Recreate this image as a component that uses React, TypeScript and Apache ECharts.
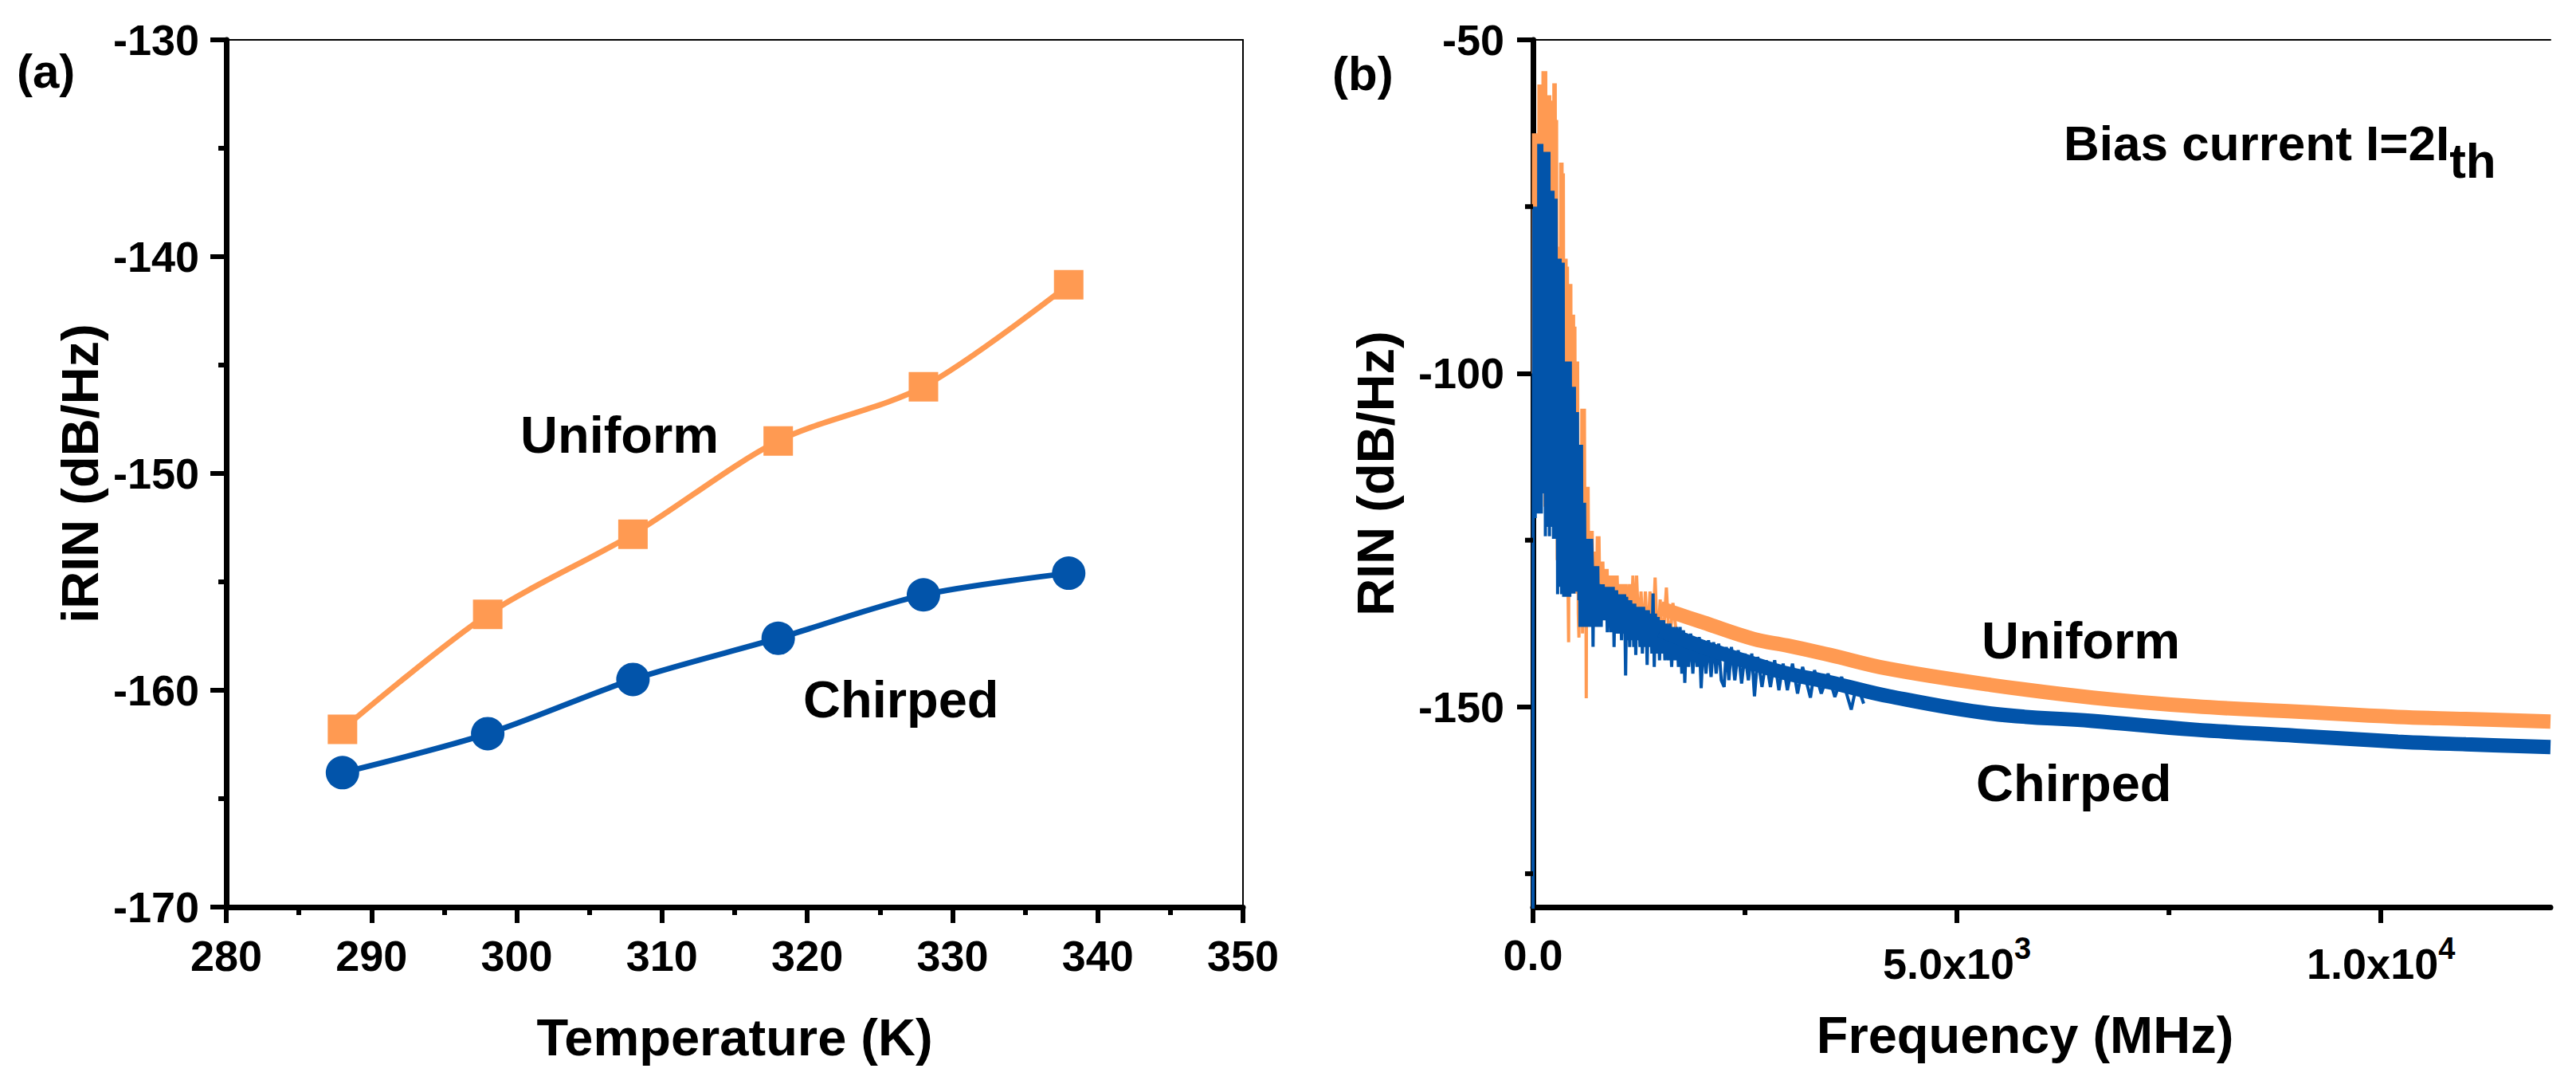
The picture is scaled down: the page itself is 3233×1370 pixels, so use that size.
import React, { useEffect, useRef } from 'react';
import * as echarts from 'echarts';

// ---------- Panel (a): integrated RIN vs temperature ----------
const temperatureK = [288, 298, 308, 318, 328, 338];
const uniformIRIN = [-161.8, -156.5, -152.8, -148.5, -146.0, -141.3];
const chirpedIRIN = [-163.8, -162.0, -159.5, -157.6, -155.6, -154.6];

// ---------- Panel (b): RIN spectrum, [frequency MHz, RIN dB/Hz] ----------
// low-frequency, strongly fluctuating part (upper / lower excursions)
const uniformLowSpectrum: [number, number][] = [
  [0, -100], [6, -64], [14, -110], [22, -64], [30, -112], [38, -64], [46, -108], [54, -64],
  [62, -116], [70, -56.7], [78, -112], [86, -56.7], [94, -118], [102, -56.7],
  [110, -114], [118, -54.7], [126, -110], [134, -54.7], [142, -120], [150, -54.7],
  [158, -118], [166, -58.3], [174, -122], [182, -58.3], [190, -120], [198, -58.3],
  [206, -122], [214, -59.1], [222, -121], [230, -59.1],
  [238, -122], [246, -56.5], [254, -120], [262, -56.5], [270, -123], [278, -62],
  [286, -128], [294, -81], [302, -130], [310, -81],
  [318, -131], [326, -68.4], [334, -130], [342, -68.4], [350, -132], [358, -70],
  [366, -131], [374, -82.8], [382, -132], [390, -82.8], [398, -132], [406, -84],
  [414, -133], [420, -140.3], [428, -86.6], [436, -132], [446, -86.6],
  [454, -132], [462, -91.2], [470, -131], [478, -91.2], [486, -132], [494, -93],
  [502, -132], [510, -98.2], [518, -133], [526, -98.2], [534, -136],
  [542, -139.6], [548, -110.7], [556, -135], [562, -110.7], [570, -136], [576, -105.3],
  [584, -139], [590, -105.3], [598, -138], [606, -105.3], [614, -136],
  [620, -117], [628, -148.7], [634, -117], [642, -137], [650, -117], [658, -136],
  [666, -123.6], [674, -137], [682, -123.6], [690, -136], [698, -123.6],
  [708, -138], [718, -126.7], [728, -137], [738, -126.7],
  [748, -136], [758, -124.4], [768, -137], [778, -124.4],
  [790, -136], [800, -128.2], [812, -137], [824, -128.2], [836, -136],
  [848, -129.3], [860, -137], [874, -129.3], [888, -137], [902, -130.3], [916, -137],
  [930, -130.3], [944, -138], [960, -130.3], [976, -137], [992, -130.3],
  [1008, -138], [1026, -131.6], [1044, -138], [1062, -131.6], [1080, -139], [1098, -131.6],
  [1118, -139], [1138, -131.6], [1158, -138], [1178, -130.3], [1198, -139], [1222, -130.3],
  [1248, -139], [1274, -132.7], [1300, -140], [1325, -132.7], [1350, -140], [1380, -132.7],
  [1410, -140], [1440, -130.6], [1470, -141], [1500, -133.9], [1530, -141], [1573, -132.1],
  [1610, -141], [1650, -134.4], [1700, -140],
];

const chirpedLowSpectrum: [number, number][] = [
  [0, -185], [3, -110], [8, -75], [14, -121.7], [20, -75], [26, -121.7], [32, -75], [38, -118],
  [44, -75], [50, -121], [56, -75], [62, -120],
  [68, -65.6], [74, -121], [80, -65.6], [86, -120], [92, -65.6], [98, -121], [104, -65.6], [110, -118],
  [116, -66.8], [122, -110.7], [128, -66.8], [134, -112], [140, -66.8], [146, -124.4], [152, -66.8],
  [158, -123], [164, -66.8], [170, -118], [176, -66.8], [182, -122], [188, -66.8], [194, -124.4],
  [200, -72.6], [206, -122], [212, -72.6], [218, -120], [224, -72.6], [230, -123], [236, -72.6], [242, -124.8],
  [248, -73.8], [254, -122], [260, -73.8], [266, -124.8], [272, -73.8], [278, -121],
  [284, -82.8], [290, -133.1], [296, -82.8], [302, -130], [308, -82.8], [314, -132], [320, -82.8], [326, -131],
  [332, -83.4], [338, -133.1], [344, -83.4], [350, -132], [356, -83.4], [362, -133.5],
  [368, -98.2], [374, -130], [380, -98.2], [386, -133.5], [392, -98.2], [398, -131], [404, -98.2],
  [410, -133.5], [416, -98.2], [422, -132], [428, -98.2], [434, -133.5], [440, -98.2], [446, -131],
  [452, -102], [458, -133], [464, -102], [470, -131], [476, -102], [482, -133], [488, -102], [494, -132],
  [500, -105.8], [506, -132.7], [512, -105.8], [518, -131], [524, -105.8], [530, -132.7],
  [536, -110.7], [542, -134], [548, -110.7], [554, -138], [560, -110.7], [566, -136], [572, -110.7], [578, -138],
  [584, -119.4], [590, -136], [596, -119.4], [602, -138], [608, -119.4], [614, -137],
  [620, -124.8], [626, -138], [632, -124.8], [638, -136], [644, -124.8], [650, -138], [656, -124.8],
  [662, -137], [668, -124.8], [674, -138], [680, -124.8], [686, -137], [692, -124.8],
  [700, -128.9], [708, -141], [716, -128.9], [724, -137], [732, -128.9], [740, -138], [748, -128.9],
  [756, -137], [764, -128.9], [772, -138],
  [780, -131.6], [788, -135], [796, -131.6], [804, -138], [812, -131.6], [820, -136], [828, -131.6], [836, -137],
  [846, -132], [856, -136], [866, -132], [876, -138.8], [886, -132], [896, -137], [906, -132], [916, -138.8],
  [926, -132], [936, -137], [946, -132], [956, -141], [966, -132.5], [976, -138], [986, -132.5], [996, -139],
  [1008, -133.1], [1020, -139], [1032, -133.1], [1044, -140], [1056, -133.1], [1068, -139], [1080, -133.1],
  [1092, -145.3], [1104, -133.5], [1116, -140], [1128, -134], [1140, -141], [1152, -134], [1164, -140],
  [1176, -134.5], [1188, -141], [1200, -134.5], [1212, -142.2], [1224, -135], [1236, -140], [1248, -135],
  [1262, -141], [1276, -135], [1290, -142], [1304, -135], [1318, -141], [1332, -135.5], [1346, -143.7],
  [1360, -135.5], [1374, -141], [1388, -136], [1402, -142], [1416, -133], [1430, -144], [1444, -136],
  [1460, -142], [1476, -136.5], [1492, -143], [1508, -137], [1524, -142], [1540, -137], [1556, -143],
  [1575, -137.5], [1595, -143], [1615, -137.5], [1635, -144], [1655, -138], [1675, -143], [1695, -138],
  [1715, -144], [1735, -138], [1755, -145], [1775, -138.5], [1790, -146.4], [1810, -139], [1835, -144],
  [1860, -139], [1885, -145], [1910, -139.5], [1935, -144], [1960, -139.5], [1983, -147.2], [2010, -140],
  [2040, -145], [2070, -140], [2100, -145.5], [2130, -140.3], [2160, -145], [2190, -140.5], [2220, -146],
  [2254, -147], [2280, -141], [2310, -146], [2340, -141], [2380, -146], [2420, -141.5], [2460, -146.5],
  [2500, -142], [2540, -146], [2580, -142], [2612, -148.4], [2650, -142.5], [2700, -147], [2750, -143],
  [2800, -147], [2850, -143], [2900, -147.5], [2950, -143.5], [3000, -147.5], [3060, -143.5], [3120, -148],
  [3180, -144], [3272, -148.6], [3320, -144.5], [3400, -148], [3480, -145], [3560, -148.5], [3640, -145.5],
  [3753, -150.4], [3820, -146.5], [3900, -149.5],
];

// high-frequency part: centre of the noise band
const tailFreq = [1500, 2000, 2600, 3000, 3500, 4200, 5400, 6600, 7800, 9000, 10200, 11000, 12000];
const uniformTailRIN = [-135.2, -137.3, -139.8, -140.8, -142.2, -144.3, -146.7, -148.6, -149.9, -150.7, -151.5, -151.8, -152.2];
const chirpedTailRIN = [-138.5, -141.0, -143.5, -145.0, -146.3, -148.4, -151.0, -152.1, -153.4, -154.3, -155.2, -155.6, -156.0];

// ---------- tick values ----------
const freqMajorTicks = [0, 5000, 10000];
const freqMinorTicks = [2500, 7500];
const rinMajorTicks = [-150, -100, -50];
const rinMinorTicks = [-175, -125, -75];
const FREQ_MIN = 0;
const FREQ_MAX = 12000;
const RIN_MIN = -180;
const RIN_MAX = -50;

const FONT = "'Liberation Sans', Arial, Helvetica, sans-serif";
const ORANGE = '#FF9A52';
const BLUE = '#0254AA';
const BLACK = '#000000';
const MINOR_TICK_LEN = 10;
const TICK_WIDTH = 6;

const tickLabel = { fontSize: 54, fontWeight: 'bold' as const, color: BLACK, fontFamily: FONT };
const axisTitle = { fontSize: 65, fontWeight: 'bold' as const, color: BLACK, fontFamily: FONT };

function freqLabel(v: number): string {
  if (v === 0) return '{z|0.0}';
  const exp = Math.floor(Math.log10(v));
  const mant = (v / Math.pow(10, exp)).toFixed(1);
  return `{n|${mant}x10}{s|${exp}}`;
}

function textGraphics(): any[] {
  return [
    { type: 'text', id: 'lblA', left: 21, top: 59, style: { text: '(a)', font: `bold 60px ${FONT}`, fill: BLACK } },
    { type: 'text', id: 'lblB', left: 1672, top: 62, style: { text: '(b)', font: `bold 60px ${FONT}`, fill: BLACK } },
    { type: 'text', id: 'uA', x: 653, y: 545, style: { text: 'Uniform', font: `bold 65px ${FONT}`, fill: BLACK, verticalAlign: 'middle', align: 'left' } },
    { type: 'text', id: 'cA', x: 1008, y: 877, style: { text: 'Chirped', font: `bold 65px ${FONT}`, fill: BLACK, verticalAlign: 'middle', align: 'left' } },
    { type: 'text', id: 'uB', x: 2487, y: 803, style: { text: 'Uniform', font: `bold 65px ${FONT}`, fill: BLACK, verticalAlign: 'middle', align: 'left' } },
    { type: 'text', id: 'cB', x: 2480, y: 982, style: { text: 'Chirped', font: `bold 65px ${FONT}`, fill: BLACK, verticalAlign: 'middle', align: 'left' } },
    {
      type: 'text', id: 'bias', x: 2590, y: 148,
      style: {
        text: '{m|Bias current I=2I}{t|th}',
        verticalAlign: 'top', align: 'left',
        rich: {
          m: { fontSize: 62, fontWeight: 'bold', fontFamily: FONT, fill: BLACK, lineHeight: 84, verticalAlign: 'top' },
          t: { fontSize: 62, fontWeight: 'bold', fontFamily: FONT, fill: BLACK, lineHeight: 84, verticalAlign: 'bottom' },
        },
      },
    },
  ];
}

function buildOption() {
  const mainAxisLine = { show: true, lineStyle: { color: BLACK, width: 7 } };
  const borderAxis = {
    axisLine: { show: true, lineStyle: { color: BLACK, width: 2 } },
    axisTick: { show: false },
    axisLabel: { show: false },
    splitLine: { show: false },
  };
  const majorTick = { show: true, inside: false, length: 20, lineStyle: { color: BLACK, width: TICK_WIDTH } };

  return {
    animation: false,
    backgroundColor: '#ffffff',
    textStyle: { fontFamily: FONT },
    grid: [
      { left: 284, top: 50, width: 1276, height: 1088 },
      { left: 1924, top: 50, width: 1277, height: 1088 },
    ],
    xAxis: [
      {
        type: 'value', gridIndex: 0, position: 'bottom', min: 280, max: 350, interval: 10,
        axisLine: mainAxisLine,
        axisTick: majorTick,
        minorTick: { show: true, splitNumber: 2, length: MINOR_TICK_LEN, lineStyle: { color: BLACK, width: TICK_WIDTH } },
        splitLine: { show: false }, minorSplitLine: { show: false },
        axisLabel: { ...tickLabel, margin: 34 },
        name: 'Temperature (K)', nameLocation: 'middle', nameGap: 131, nameTextStyle: axisTitle,
      },
      { type: 'value', gridIndex: 0, position: 'top', min: 280, max: 350, ...borderAxis },
      {
        type: 'value', gridIndex: 1, position: 'bottom', min: FREQ_MIN, max: FREQ_MAX,
        axisLine: mainAxisLine,
        axisTick: { ...majorTick, customValues: freqMajorTicks },
        splitLine: { show: false },
        axisLabel: {
          ...tickLabel, margin: 33, customValues: freqMajorTicks,
          formatter: (v: number) => freqLabel(v),
          rich: {
            n: { fontSize: 54, fontWeight: 'bold', color: BLACK, fontFamily: FONT, lineHeight: 65, verticalAlign: 'bottom' },
            s: { fontSize: 38, fontWeight: 'bold', color: BLACK, fontFamily: FONT, lineHeight: 65, verticalAlign: 'top' },
            z: { fontSize: 54, fontWeight: 'bold', color: BLACK, fontFamily: FONT, lineHeight: 65, verticalAlign: 'top' },
          },
        },
        name: 'Frequency (MHz)', nameLocation: 'middle', nameGap: 128,
        nameTextStyle: { ...axisTitle, padding: [0, 42, 0, 0] },
      },
      { type: 'value', gridIndex: 1, position: 'top', min: FREQ_MIN, max: FREQ_MAX, ...borderAxis },
    ],
    yAxis: [
      {
        type: 'value', gridIndex: 0, position: 'left', min: -170, max: -130, interval: 10,
        axisLine: mainAxisLine,
        axisTick: majorTick,
        minorTick: { show: true, splitNumber: 2, length: MINOR_TICK_LEN, lineStyle: { color: BLACK, width: TICK_WIDTH } },
        splitLine: { show: false }, minorSplitLine: { show: false },
        axisLabel: { ...tickLabel, margin: 34 },
        name: 'iRIN (dB/Hz)', nameLocation: 'middle', nameGap: 151, nameTextStyle: axisTitle,
      },
      { type: 'value', gridIndex: 0, position: 'right', min: -170, max: -130, ...borderAxis },
      {
        type: 'value', gridIndex: 1, position: 'left', min: RIN_MIN, max: RIN_MAX,
        axisLine: mainAxisLine,
        axisTick: { ...majorTick, customValues: rinMajorTicks },
        splitLine: { show: false },
        axisLabel: { ...tickLabel, margin: 36, customValues: rinMajorTicks },
        name: 'RIN (dB/Hz)', nameLocation: 'middle', nameGap: 165, nameTextStyle: axisTitle,
      },
      { type: 'value', gridIndex: 1, position: 'right', min: RIN_MIN, max: RIN_MAX, ...borderAxis },
    ],
    series: [
      {
        name: 'Uniform', type: 'line', xAxisIndex: 0, yAxisIndex: 0,
        data: temperatureK.map((t, i) => [t, uniformIRIN[i]]),
        smooth: 0.3, symbol: 'rect', symbolSize: 37,
        lineStyle: { color: ORANGE, width: 7 }, itemStyle: { color: ORANGE },
        z: 3,
      },
      {
        name: 'Chirped', type: 'line', xAxisIndex: 0, yAxisIndex: 0,
        data: temperatureK.map((t, i) => [t, chirpedIRIN[i]]),
        smooth: 0.3, symbol: 'circle', symbolSize: 42,
        lineStyle: { color: BLUE, width: 7 }, itemStyle: { color: BLUE },
        z: 3,
      },
      {
        name: 'Uniform spectrum', type: 'line', xAxisIndex: 2, yAxisIndex: 2,
        data: uniformLowSpectrum, showSymbol: false, symbol: 'none',
        lineStyle: { color: ORANGE, width: 4 }, clip: true, z: 2,
      },
      {
        name: 'Uniform spectrum band', type: 'line', xAxisIndex: 2, yAxisIndex: 2,
        data: tailFreq.map((f, i) => [f, uniformTailRIN[i]]), showSymbol: false, symbol: 'none',
        smooth: 0.4,
        lineStyle: { color: ORANGE, width: 18 }, clip: true, z: 2,
      },
      {
        name: 'Chirped spectrum', type: 'line', xAxisIndex: 2, yAxisIndex: 2,
        data: chirpedLowSpectrum, showSymbol: false, symbol: 'none',
        lineStyle: { color: BLUE, width: 4 }, clip: true, z: 3,
      },
      {
        name: 'Chirped spectrum band', type: 'line', xAxisIndex: 2, yAxisIndex: 2,
        data: tailFreq.map((f, i) => [f, chirpedTailRIN[i]]), showSymbol: false, symbol: 'none',
        smooth: 0.4,
        lineStyle: { color: BLUE, width: 18 }, clip: true, z: 3,
      },
    ],
    graphic: textGraphics(),
  };
}

// minor ticks of panel (b), positioned through the chart's own axis scales
function minorTickGraphics(chart: echarts.ECharts): any[] {
  const xAxisPx = chart.convertToPixel({ xAxisIndex: 2 }, FREQ_MIN) as number;
  const yAxisPx = chart.convertToPixel({ yAxisIndex: 2 }, RIN_MIN) as number;
  const els: any[] = [];
  freqMinorTicks.forEach((v, i) => {
    const px = chart.convertToPixel({ xAxisIndex: 2 }, v) as number;
    els.push({
      type: 'line', id: `fx${i}`, z: 20,
      shape: { x1: px, y1: yAxisPx, x2: px, y2: yAxisPx + MINOR_TICK_LEN },
      style: { stroke: BLACK, lineWidth: TICK_WIDTH },
    });
  });
  rinMinorTicks.forEach((v, i) => {
    const py = chart.convertToPixel({ yAxisIndex: 2 }, v) as number;
    els.push({
      type: 'line', id: `ry${i}`, z: 20,
      shape: { x1: xAxisPx, y1: py, x2: xAxisPx - MINOR_TICK_LEN, y2: py },
      style: { stroke: BLACK, lineWidth: TICK_WIDTH },
    });
  });
  return els;
}

export default function App() {
  const ref = useRef<HTMLDivElement>(null);
  useEffect(() => {
    if (!ref.current) return;
    const chart = echarts.init(ref.current, null, { renderer: 'svg' });
    chart.setOption(buildOption() as any);
    chart.setOption({ graphic: [...textGraphics(), ...minorTickGraphics(chart)] } as any);
    return () => chart.dispose();
  }, []);
  return (
    <div
      ref={ref}
      style={{ position: 'fixed', left: 0, top: 0, width: '3233px', height: '1370px', background: '#fff' }}
    />
  );
}
